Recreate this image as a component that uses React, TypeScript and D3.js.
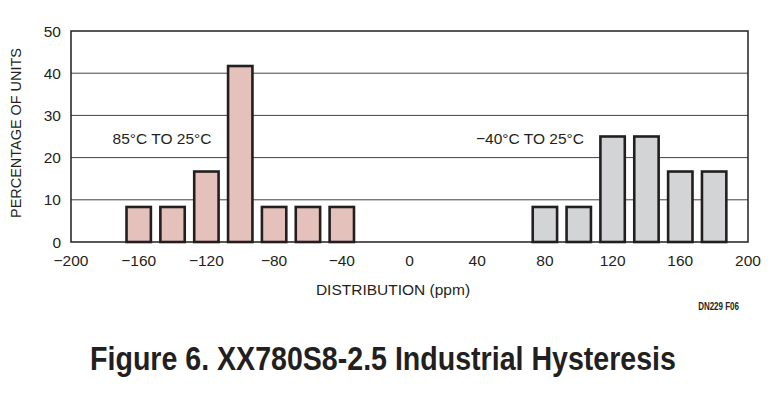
import React, { useLayoutEffect, useRef, useState } from 'react';
import * as d3 from 'd3';

// bin centres (ppm) and percentage of units
const hotBins = [-160, -140, -120, -100, -80, -60, -40];
const hotValues = [8.3, 8.3, 16.7, 41.7, 8.3, 8.3, 8.3];
const coldBins = [80, 100, 120, 140, 160, 180];
const coldValues = [8.3, 8.3, 25, 25, 16.7, 16.7];

const xTicks = [-200, -160, -120, -80, -40, 0, 40, 80, 120, 160, 200];
const yTicks = [0, 10, 20, 30, 40, 50];

const W = 781, H = 394;
const left = 71, right = 748, top = 31, bottom = 242;
const font = "'Liberation Sans', Arial, sans-serif";
const ink = '#231f20';
const titleWidth = 586;

const App: React.FC = () => {
  const x = d3.scaleLinear().domain([-200, 200]).range([left, right]);
  const y = d3.scaleLinear().domain([0, 50]).range([bottom, top]);
  const half = 7.2;

  // title is set in a condensed face; squeeze the bold sans to the same width
  const titleRef = useRef<SVGTextElement>(null);
  const [titleScale, setTitleScale] = useState(0.82);
  useLayoutEffect(() => {
    if (titleRef.current) {
      const w = titleRef.current.getComputedTextLength();
      if (w > 0) setTitleScale(titleWidth / w);
    }
  }, []);

  const bars = (bins: number[], vals: number[], fill: string) =>
    bins.map((b, i) => (
      <rect
        key={`${fill}-${b}`}
        x={x(b - half)}
        y={y(vals[i])}
        width={x(b + half) - x(b - half)}
        height={y(0) - y(vals[i])}
        fill={fill}
        stroke={ink}
        strokeWidth={2.6}
      />
    ));

  return (
    <svg width={W} height={H} style={{ position: 'absolute', left: 0, top: 0, background: '#fff' }}>
      {/* grid */}
      {yTicks.filter(t => t > 0 && t < 50).map(t => (
        <line key={t} x1={left} x2={right} y1={y(t)} y2={y(t)} stroke="#444" strokeWidth={1} />
      ))}
      {bars(hotBins, hotValues, '#e4c1bb')}
      {bars(coldBins, coldValues, '#d3d4d6')}
      <rect x={left} y={top} width={right - left} height={bottom - top} fill="none" stroke={ink} strokeWidth={1.5} />

      {/* y ticks */}
      {yTicks.map(t => (
        <text key={t} x={61} y={y(t) + 5.5} textAnchor="end" fontFamily={font} fontSize={15.5} fill={ink}>{t}</text>
      ))}
      {/* x ticks */}
      {xTicks.map(t => (
        <text key={t} x={x(t)} y={266} textAnchor="middle" fontFamily={font} fontSize={15.5} fill={ink}>
          {t < 0 ? `\u2212${-t}` : t}
        </text>
      ))}

      <text transform="translate(21, 133) rotate(-90)" textAnchor="middle" fontFamily={font} fontSize={15.5} fill={ink}
        textLength={170} lengthAdjust="spacingAndGlyphs">
        PERCENTAGE OF UNITS
      </text>
      <text x={393} y={295} textAnchor="middle" fontFamily={font} fontSize={15.5} fill={ink}>DISTRIBUTION (ppm)</text>

      <text x={162} y={144} textAnchor="middle" fontFamily={font} fontSize={15.5} fill={ink}>85°C TO 25°C</text>
      <text x={530} y={144} textAnchor="middle" fontFamily={font} fontSize={15.5} fill={ink}>{'\u221240°C TO 25°C'}</text>

      <g transform="translate(739, 310) scale(0.8, 1)">
        <text x={0} y={0} textAnchor="end" fontFamily={font} fontSize={10} fontWeight="bold" fill={ink}>DN229 F06</text>
      </g>

      <g transform={`translate(383, 370) scale(${titleScale}, 1)`}>
        <text ref={titleRef} x={0} y={0} textAnchor="middle" fontFamily={font} fontSize={34} fontWeight="bold" fill={ink}>
          Figure 6. XX780S8-2.5 Industrial Hysteresis
        </text>
      </g>
    </svg>
  );
};

export default App;
